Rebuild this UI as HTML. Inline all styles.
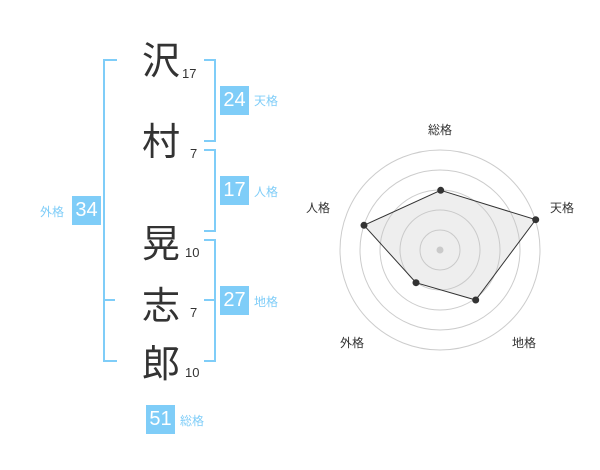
<!DOCTYPE html>
<html><head><meta charset="utf-8"><style>
body{margin:0;width:600px;height:470px;background:#fff;position:relative;overflow:hidden;font-family:"Liberation Sans","Noto Sans CJK JP",sans-serif}
.k{position:absolute;font-size:38px;color:#333;line-height:1;width:50px;text-align:center;left:136px}
.n{position:absolute;font-size:13px;color:#333;line-height:1}
.b{position:absolute;background:#7fcdf8;color:#fff;font-size:20px;width:29px;height:29px;line-height:29px;text-align:center}
.l{position:absolute;font-size:12px;color:#7fcdf8;line-height:1}
.br{position:absolute;border:2px solid #7fcdf8}
.r{position:absolute;font-size:12px;color:#333;line-height:1}
</style></head><body>
<div class="k" style="top:43px">沢</div><div class="n" style="left:182px;top:67px">17</div>
<div class="k" style="top:124px">村</div><div class="n" style="left:190px;top:147px">7</div>
<div class="k" style="top:226px">晃</div><div class="n" style="left:185px;top:246px">10</div>
<div class="k" style="top:288px">志</div><div class="n" style="left:190px;top:306px">7</div>
<div class="k" style="top:346px">郎</div><div class="n" style="left:185px;top:366px">10</div>

<div class="br" style="left:103px;top:59px;width:12px;height:299px;border-right:none"></div>
<div class="br" style="left:103px;top:299px;width:12px;height:0;border-width:2px 0 0 0"></div>
<div class="br" style="left:204px;top:59px;width:10px;height:79px;border-left:none"></div>
<div class="br" style="left:204px;top:149px;width:10px;height:79px;border-left:none"></div>
<div class="br" style="left:204px;top:239px;width:10px;height:119px;border-left:none"></div>
<div class="br" style="left:204px;top:299px;width:10px;height:0;border-width:2px 0 0 0"></div>

<div class="b" style="left:220px;top:86px">24</div><div class="l" style="left:254px;top:95px">天格</div>
<div class="b" style="left:220px;top:176px">17</div><div class="l" style="left:254px;top:186px">人格</div>
<div class="b" style="left:220px;top:286px">27</div><div class="l" style="left:254px;top:296px">地格</div>
<div class="b" style="left:72px;top:196px">34</div><div class="l" style="left:40px;top:206px">外格</div>
<div class="b" style="left:146px;top:405px">51</div><div class="l" style="left:180px;top:415px">総格</div>

<svg style="position:absolute;left:0;top:0" width="600" height="470">
<g fill="none" stroke="#ccc" stroke-width="1">
<circle cx="440" cy="250" r="20"/><circle cx="440" cy="250" r="40"/><circle cx="440" cy="250" r="60"/><circle cx="440" cy="250" r="80"/><circle cx="440" cy="250" r="100"/>
</g>
<circle cx="440" cy="250" r="3.5" fill="#ccc"/>
<polygon points="440.7,190.3 535.7,219.7 475.7,300 416,282.7 364,225.3" fill="rgba(200,200,200,0.3)" stroke="#333" stroke-width="1"/>
<g fill="#333"><circle cx="440.7" cy="190.3" r="3.5"/><circle cx="535.7" cy="219.7" r="3.5"/><circle cx="475.7" cy="300" r="3.5"/><circle cx="416" cy="282.7" r="3.5"/><circle cx="364" cy="225.3" r="3.5"/></g>
</svg>
<div class="r" style="left:428px;top:124px">総格</div>
<div class="r" style="left:550px;top:202px">天格</div>
<div class="r" style="left:306px;top:202px">人格</div>
<div class="r" style="left:340px;top:337px">外格</div>
<div class="r" style="left:512px;top:337px">地格</div>
</body></html>
